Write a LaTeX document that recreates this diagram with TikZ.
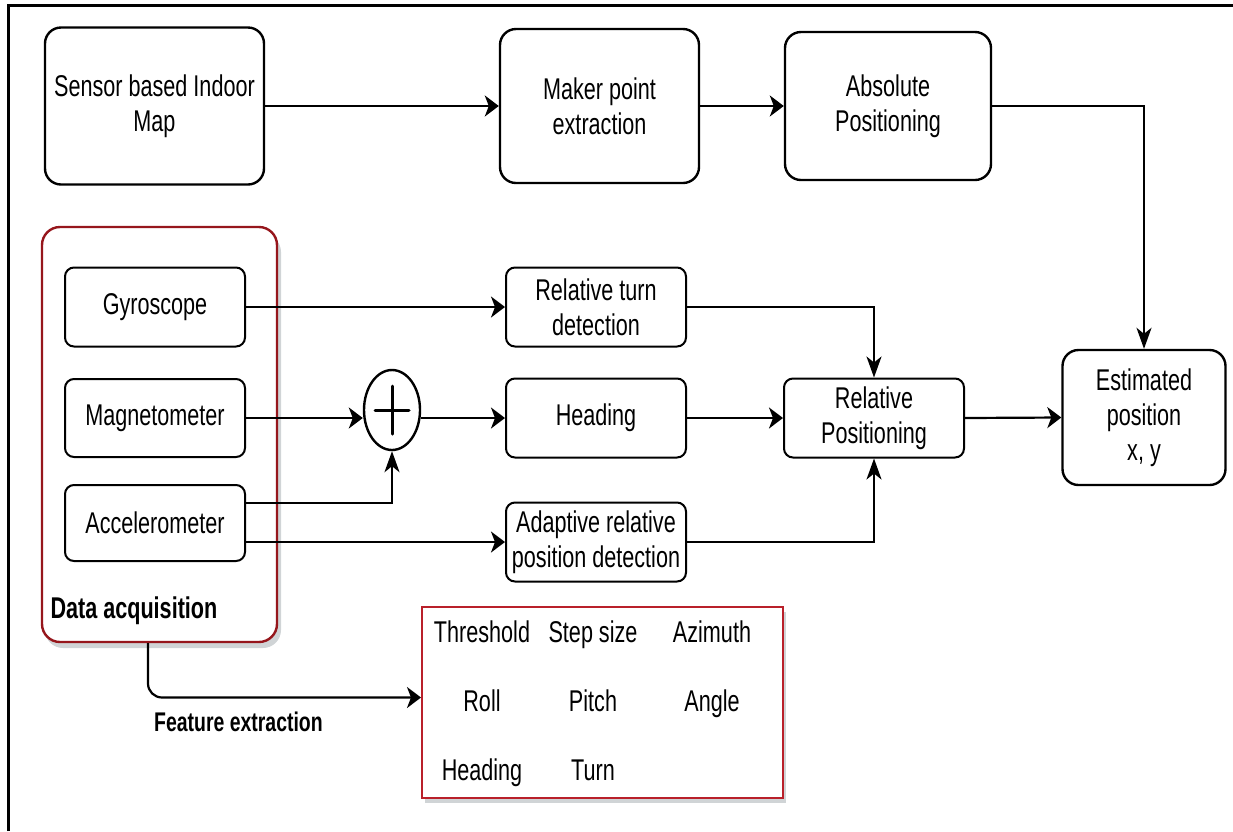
\documentclass[tikz,border=0pt]{standalone}
\usepackage{fontspec}
\setmainfont[FakeStretch=0.72]{Liberation Sans}
\usetikzlibrary{arrows.meta,shapes.geometric,calc}

\definecolor{acqred}{RGB}{150,22,28}
\definecolor{featred}{RGB}{185,32,42}
\definecolor{shadegray}{RGB}{208,212,214}

\begin{document}
\begin{tikzpicture}[x=1pt,y=-1pt,
  font=\fontsize{30}{35}\selectfont,
  bigbox/.style={draw=black, line width=2.4pt, rounded corners=16pt, fill=white,
    align=center, inner sep=0pt},
  smallbox/.style={draw=black, line width=2pt, rounded corners=9pt, fill=white,
    align=center, inner sep=0pt, minimum width=180pt, minimum height=79pt},
  conn/.style={line width=2.2pt, draw=black},
  harrow/.style={conn, -{Stealth[length=14pt,width=21pt,inset=4pt]}},
  varrow/.style={conn, -{Stealth[length=21pt,width=15pt,inset=6pt]}},
  feat/.style={inner sep=0pt, anchor=base},
]
\useasboundingbox (0,0) rectangle (1233,831);

% outer frame (top and left edges)
\draw[line width=3pt] (8,831) -- (8,5) -- (1233,5);

% top row
\node[bigbox, minimum width=219pt, minimum height=157pt] (sensor) at (154.5,106) {Sensor based Indoor\\Map};
\node[bigbox, minimum width=199pt, minimum height=154pt] (maker) at (599.5,106) {Maker point\\extraction};
\node[bigbox, minimum width=206pt, minimum height=148pt] (absolute) at (888,106) {Absolute\\Positioning};

% data acquisition group
\fill[shadegray, rounded corners=18pt] (45,234) rectangle (281,648);
\node[draw=acqred, line width=2.4pt, rounded corners=18pt, fill=white,
  minimum width=235pt, minimum height=415pt, inner sep=0pt] (dacq) at (159.5,434.5) {};
\node[anchor=base west, font=\bfseries\fontsize{30}{35}\selectfont] (dacqlabel) at (47,618) {Data acquisition};

\node[smallbox] (gyro) at (155,307) {Gyroscope};
\node[smallbox, minimum height=78pt] (magnet) at (155,418) {Magnetometer};
\node[smallbox, minimum height=76pt] (accel) at (155,523) {Accelerometer};

% middle column
\node[smallbox] (turn) at (596,307) {Relative turn\\detection};
\node[smallbox] (heading) at (596,418) {Heading};
\node[smallbox] (adaptive) at (596,542) {Adaptive relative\\position detection};
\node[smallbox] (relpos) at (874,418) {Relative\\Positioning};

% summing junction
\node[draw, ellipse, line width=2.4pt, minimum width=56pt, minimum height=80pt,
  inner sep=0pt, fill=white] (plus) at (392,410) {};
\draw[line width=3pt, line cap=round] ($(plus.center)+(-17,0)$) -- ($(plus.center)+(17,0)$);
\draw[line width=3pt, line cap=round] ($(plus.center)+(0,-24)$) -- ($(plus.center)+(0,24)$);

% result
\node[bigbox, minimum width=163pt, minimum height=135pt] (estimated) at (1144,417.5) {Estimated\\position\\x, y};

% feature box
\fill[shadegray] (425,612) rectangle (786,803);
\node[draw=featred, line width=2pt, fill=white, minimum width=361pt, minimum height=191pt,
  inner sep=0pt] (featbox) at (602.5,702.5) {};
\node[feat] (f1) at (482,642) {Threshold};
\node[feat] (f2) at (593,642) {Step size};
\node[feat] (f3) at (712,642) {Azimuth};
\node[feat] (f4) at (482,711) {Roll};
\node[feat] (f5) at (593,711) {Pitch};
\node[feat] (f6) at (712,711) {Angle};
\node[feat] (f7) at (482,780) {Heading};
\node[feat] (f8) at (593,780) {Turn};

% connectors
\draw[harrow] (sensor.east) -- (maker.west);
\draw[harrow] (maker.east) -- (absolute.west);
\draw[varrow] (absolute.east) -| (estimated.north);

\draw[harrow] (gyro.east) -- (turn.west);
\draw[harrow] (magnet.east) -- (plus.west |- magnet.east);
\draw[varrow] ([yshift=20pt]accel.east) -| (plus.south);
\draw[harrow] (plus.east |- heading.west) -- (heading.west);
\draw[harrow] (accel.east |- adaptive.west) -- (adaptive.west);

\draw[varrow] (turn.east) -| (relpos.north);
\draw[harrow] (heading.east) -- (relpos.west);
\draw[varrow] (adaptive.east) -| (relpos.south);
\draw[harrow] (relpos.east) -- (estimated.west);

\draw[harrow, rounded corners=14pt] ([xshift=-11.5pt]dacq.south) |- ([yshift=5pt]featbox.west);
\node[font=\bfseries\fontsize{27}{32}\selectfont] (fxlabel) at (238.5,722) {Feature extraction};
\end{tikzpicture}
\end{document}
